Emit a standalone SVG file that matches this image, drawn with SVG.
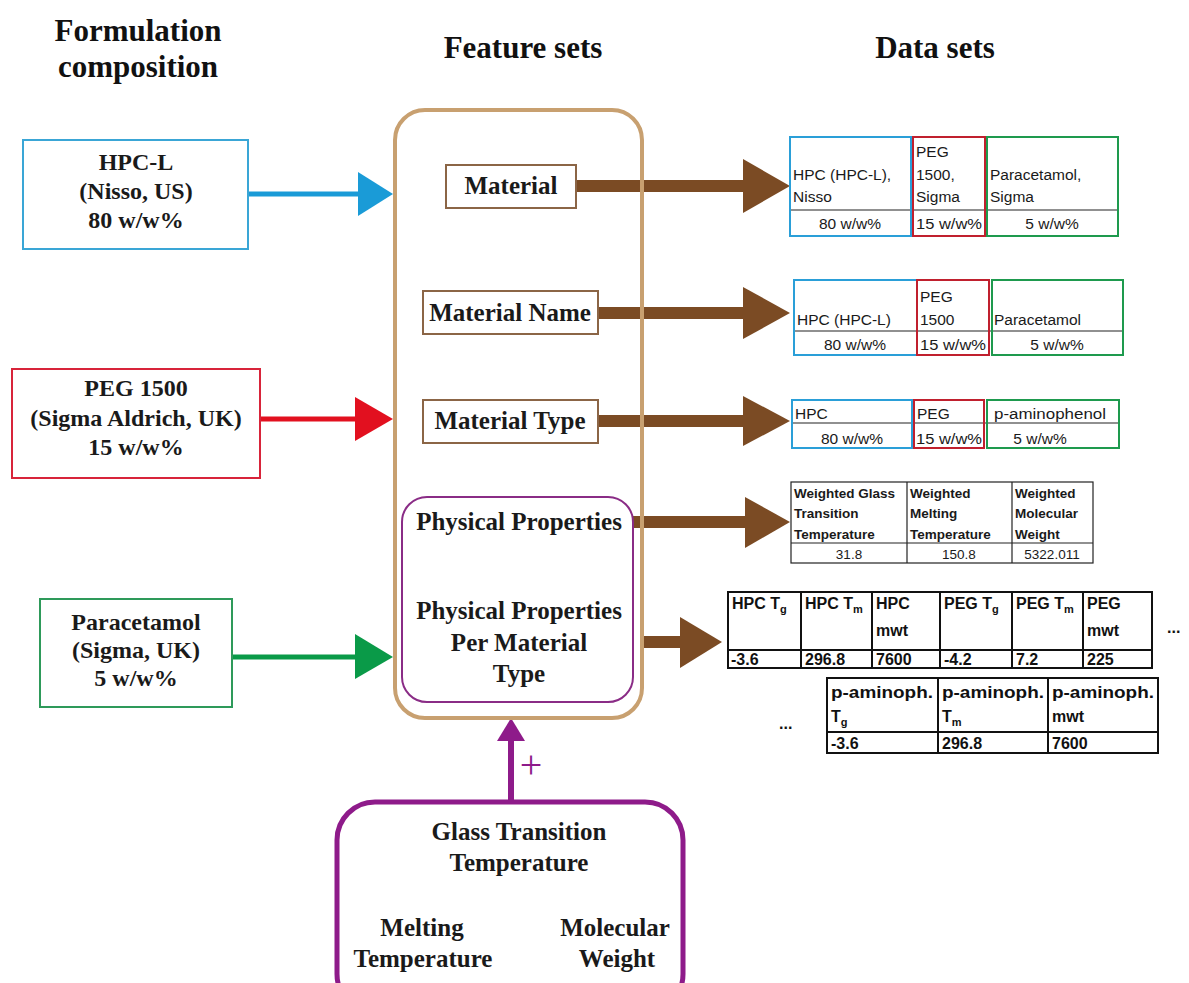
<svg xmlns="http://www.w3.org/2000/svg" width="1189" height="983" viewBox="0 0 1189 983">
<style>
.hdr{font-family:"Liberation Serif","Times New Roman",serif;font-weight:bold;font-size:31px;fill:#111;text-anchor:middle}
.lb{font-family:"Liberation Serif","Times New Roman",serif;font-weight:bold;font-size:24px;fill:#1a1a1a;text-anchor:middle}
.fs{font-family:"Liberation Serif","Times New Roman",serif;font-weight:bold;font-size:25px;fill:#1a1a1a;text-anchor:middle}
.t{font-family:"Liberation Sans",Arial,sans-serif;font-size:15.5px;fill:#1a1a1a}
.tc{font-family:"Liberation Sans",Arial,sans-serif;font-size:15.5px;fill:#1a1a1a;text-anchor:middle}
.tb{font-family:"Liberation Sans",Arial,sans-serif;font-weight:bold;font-size:13.5px;fill:#1a1a1a}
.tv{font-family:"Liberation Sans",Arial,sans-serif;font-size:13.5px;fill:#1a1a1a;text-anchor:middle}
.tb5{font-family:"Liberation Sans",Arial,sans-serif;font-weight:bold;font-size:16px;fill:#111}
.sub{font-size:11px}
.grid{stroke:#222;stroke-width:1.2;fill:none}
.grid2{stroke:#111;stroke-width:2;fill:none}
.brown{stroke:#7b4b24;stroke-width:12}
.bh{fill:#7b4b24}
.fbox{fill:#fff;stroke:#8b6546;stroke-width:2}
</style>
<rect x="0" y="0" width="1189" height="983" fill="#fff"/>

<g id="headers">
<text class="hdr" x="138" y="41">Formulation</text>
<text class="hdr" x="138" y="77">composition</text>
<text class="hdr" x="523" y="58">Feature sets</text>
<text class="hdr" x="935" y="58">Data sets</text>
</g>

<g id="connectors">
<line x1="248" y1="194" x2="360" y2="194" stroke="#1a9bd7" stroke-width="5"/>
<polygon points="358,172 393,194 358,216" fill="#1a9bd7"/>
<line x1="260" y1="419" x2="358" y2="419" stroke="#e2101f" stroke-width="5"/>
<polygon points="355,397 393,419 355,441" fill="#e2101f"/>
<line x1="232" y1="657" x2="358" y2="657" stroke="#0a9a48" stroke-width="5"/>
<polygon points="355,634 393,657 355,679" fill="#0a9a48"/>
<line class="brown" x1="576" y1="186" x2="745" y2="186"/>
<polygon class="bh" points="743,159 790,186 743,213"/>
<line class="brown" x1="598" y1="313" x2="745" y2="313"/>
<polygon class="bh" points="743,287 790,313 743,339"/>
<line class="brown" x1="598" y1="421" x2="745" y2="421"/>
<polygon class="bh" points="743,396 790,421 743,446"/>
<line class="brown" x1="633" y1="522" x2="747" y2="522"/>
<polygon class="bh" points="745,497 790,522 745,548"/>
<line class="brown" x1="642" y1="642" x2="682" y2="642"/>
<polygon class="bh" points="680,617 722,642 680,668"/>
<line x1="511" y1="803" x2="511" y2="738" stroke="#8e1b8a" stroke-width="6"/>
<polygon points="497,741 511,718 525,741" fill="#8e1b8a"/>
<text x="531" y="778" font-family="Liberation Serif,serif" font-size="40" fill="#8e1b8a" text-anchor="middle">+</text>
</g>

<g id="feature-frame">
<rect x="395" y="110" width="247" height="608" rx="30" fill="none" stroke="#c8a070" stroke-width="4"/>
</g>

<g id="hpc-l">
<rect x="23" y="140" width="225" height="109" fill="#fff" stroke="#3aa6d6" stroke-width="2"/>
<text class="lb" x="136" y="170">HPC-L</text>
<text class="lb" x="136" y="199">(Nisso, US)</text>
<text class="lb" x="136" y="228">80 w/w%</text>
</g>
<g id="peg1500">
<rect x="12" y="369" width="248" height="109" fill="#fff" stroke="#d8243a" stroke-width="2"/>
<text class="lb" x="136" y="396">PEG 1500</text>
<text class="lb" x="136" y="426">(Sigma Aldrich, UK)</text>
<text class="lb" x="136" y="455">15 w/w%</text>
</g>
<g id="paracetamol">
<rect x="40" y="599" width="192" height="108" fill="#fff" stroke="#2e9a5a" stroke-width="2"/>
<text class="lb" x="136" y="630">Paracetamol</text>
<text class="lb" x="136" y="658">(Sigma, UK)</text>
<text class="lb" x="136" y="686">5 w/w%</text>
</g>

<g id="material">
<rect class="fbox" x="446" y="165" width="130" height="43"/>
<text class="fs" x="511" y="194">Material</text>
</g>
<g id="material-name">
<rect class="fbox" x="423" y="291" width="175" height="43"/>
<text class="fs" x="510" y="321">Material Name</text>
</g>
<g id="material-type">
<rect class="fbox" x="423" y="400" width="175" height="43"/>
<text class="fs" x="510" y="429">Material Type</text>
</g>
<g id="physical">
<rect x="402" y="497" width="231" height="205" rx="25" fill="none" stroke="#8a2c86" stroke-width="2"/>
<text class="fs" x="519" y="530">Physical Properties</text>
<text class="fs" x="519" y="619">Physical Properties</text>
<text class="fs" x="519" y="651">Per Material</text>
<text class="fs" x="519" y="682">Type</text>
</g>

<g id="properties">
<rect x="337" y="802" width="346" height="210" rx="38" fill="none" stroke="#8e1b8a" stroke-width="5"/>
<text class="fs" x="519" y="840">Glass Transition</text>
<text class="fs" x="519" y="871">Temperature</text>
<text class="fs" x="422" y="936">Melting</text>
<text class="fs" x="423" y="967">Temperature</text>
<text class="fs" x="615" y="936">Molecular</text>
<text class="fs" x="617" y="967">Weight</text>
</g>

<g id="table-material">
<line x1="790" y1="210" x2="1118" y2="210" stroke="#222" stroke-width="1.2"/>
<rect x="790" y="137" width="121" height="99" fill="none" stroke="#2a9fd8" stroke-width="2"/>
<rect x="913" y="137" width="72" height="99" fill="none" stroke="#c0202e" stroke-width="2"/>
<rect x="987" y="137" width="131" height="99" fill="none" stroke="#1e9a4e" stroke-width="2"/>
<text class="t" x="793" y="180">HPC (HPC-L),</text>
<text class="t" x="793" y="202">Nisso</text>
<text class="t" x="916" y="157">PEG</text>
<text class="t" x="916" y="180">1500,</text>
<text class="t" x="916" y="202">Sigma</text>
<text class="t" x="990" y="180">Paracetamol,</text>
<text class="t" x="990" y="202">Sigma</text>
<text class="tc" x="850" y="229">80 w/w%</text>
<text class="tc" x="949" y="229" textLength="66" lengthAdjust="spacingAndGlyphs">15 w/w%</text>
<text class="tc" x="1052" y="229">5 w/w%</text>
</g>

<g id="table-name">
<line x1="794" y1="331" x2="1123" y2="331" stroke="#222" stroke-width="1.2"/>
<rect x="794" y="280" width="123" height="75" fill="none" stroke="#2a9fd8" stroke-width="2"/>
<rect x="917" y="280" width="72" height="75" fill="none" stroke="#c0202e" stroke-width="2"/>
<rect x="992" y="280" width="131" height="75" fill="none" stroke="#1e9a4e" stroke-width="2"/>
<text class="t" x="797" y="325">HPC (HPC-L)</text>
<text class="t" x="920" y="302">PEG</text>
<text class="t" x="920" y="325">1500</text>
<text class="t" x="994" y="325">Paracetamol</text>
<text class="tc" x="855" y="350">80 w/w%</text>
<text class="tc" x="953" y="350" textLength="66" lengthAdjust="spacingAndGlyphs">15 w/w%</text>
<text class="tc" x="1057" y="350">5 w/w%</text>
</g>

<g id="table-type">
<line x1="792" y1="423" x2="1119" y2="423" stroke="#222" stroke-width="1.2"/>
<rect x="792" y="400" width="120" height="48" fill="none" stroke="#2a9fd8" stroke-width="2"/>
<rect x="914" y="400" width="70" height="48" fill="none" stroke="#c0202e" stroke-width="2"/>
<rect x="987" y="400" width="132" height="48" fill="none" stroke="#1e9a4e" stroke-width="2"/>
<text class="t" x="795" y="419">HPC</text>
<text class="t" x="917" y="419">PEG</text>
<text class="t" x="994" y="419" textLength="112" lengthAdjust="spacingAndGlyphs">p-aminophenol</text>
<text class="tc" x="852" y="444">80 w/w%</text>
<text class="tc" x="949" y="444" textLength="66" lengthAdjust="spacingAndGlyphs">15 w/w%</text>
<text class="tc" x="1040" y="444">5 w/w%</text>
</g>

<g id="table-physical">
<rect class="grid" x="791" y="482" width="302" height="81" stroke="#444"/>
<line class="grid" x1="907" y1="482" x2="907" y2="563"/>
<line class="grid" x1="1012" y1="482" x2="1012" y2="563"/>
<line class="grid" x1="791" y1="543" x2="1093" y2="543"/>
<text class="tb" x="794" y="498">Weighted Glass</text>
<text class="tb" x="794" y="518">Transition</text>
<text class="tb" x="794" y="539">Temperature</text>
<text class="tb" x="910" y="498">Weighted</text>
<text class="tb" x="910" y="518">Melting</text>
<text class="tb" x="910" y="539">Temperature</text>
<text class="tb" x="1015" y="498">Weighted</text>
<text class="tb" x="1015" y="518">Molecular</text>
<text class="tb" x="1015" y="539">Weight</text>
<text class="tv" x="849" y="559">31.8</text>
<text class="tv" x="959" y="559">150.8</text>
<text class="tv" x="1052" y="559">5322.011</text>
</g>

<g id="table-per-type">
<rect class="grid2" x="728" y="592" width="424" height="76"/>
<line class="grid2" x1="801" y1="592" x2="801" y2="668"/>
<line class="grid2" x1="872" y1="592" x2="872" y2="668"/>
<line class="grid2" x1="940" y1="592" x2="940" y2="668"/>
<line class="grid2" x1="1012" y1="592" x2="1012" y2="668"/>
<line class="grid2" x1="1083" y1="592" x2="1083" y2="668"/>
<line class="grid2" x1="728" y1="650" x2="1152" y2="650"/>
<text class="tb5" x="732" y="609">HPC T<tspan class="sub" dy="4">g</tspan></text>
<text class="tb5" x="805" y="609">HPC T<tspan class="sub" dy="4">m</tspan></text>
<text class="tb5" x="876" y="609">HPC</text>
<text class="tb5" x="876" y="636">mwt</text>
<text class="tb5" x="944" y="609">PEG T<tspan class="sub" dy="4">g</tspan></text>
<text class="tb5" x="1016" y="609">PEG T<tspan class="sub" dy="4">m</tspan></text>
<text class="tb5" x="1087" y="609">PEG</text>
<text class="tb5" x="1087" y="636">mwt</text>
<text class="tb5" x="731" y="665">-3.6</text>
<text class="tb5" x="805" y="665">296.8</text>
<text class="tb5" x="876" y="665">7600</text>
<text class="tb5" x="944" y="665">-4.2</text>
<text class="tb5" x="1016" y="665">7.2</text>
<text class="tb5" x="1087" y="665">225</text>
<text class="tb5" x="1167" y="633">...</text>

<rect class="grid2" x="827" y="678" width="331" height="75"/>
<line class="grid2" x1="938" y1="678" x2="938" y2="753"/>
<line class="grid2" x1="1048" y1="678" x2="1048" y2="753"/>
<line class="grid2" x1="827" y1="732" x2="1158" y2="732"/>
<text class="tb5" x="831" y="698" textLength="102" lengthAdjust="spacingAndGlyphs">p-aminoph.</text>
<text class="tb5" x="831" y="722">T<tspan class="sub" dy="4">g</tspan></text>
<text class="tb5" x="942" y="698" textLength="102" lengthAdjust="spacingAndGlyphs">p-aminoph.</text>
<text class="tb5" x="942" y="722">T<tspan class="sub" dy="4">m</tspan></text>
<text class="tb5" x="1052" y="698" textLength="102" lengthAdjust="spacingAndGlyphs">p-aminoph.</text>
<text class="tb5" x="1052" y="722">mwt</text>
<text class="tb5" x="831" y="749">-3.6</text>
<text class="tb5" x="942" y="749">296.8</text>
<text class="tb5" x="1052" y="749">7600</text>
<text class="tb5" x="779" y="729">...</text>
</g>
</svg>
